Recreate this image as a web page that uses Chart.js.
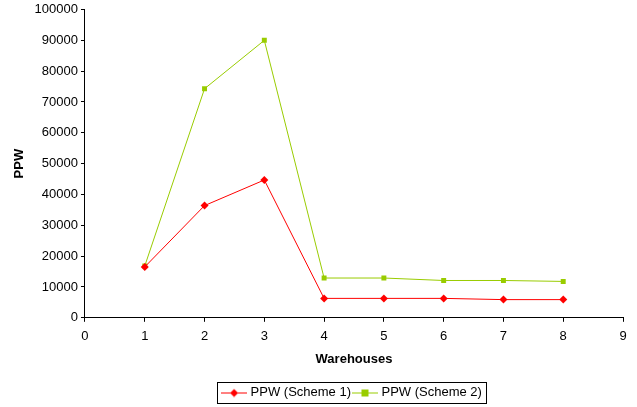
<!DOCTYPE html>
<html>
<head>
<meta charset="utf-8">
<script src="https://cdn.jsdelivr.net/npm/chart.js@4/dist/chart.umd.min.js"></script>
<style>
  html, body { margin: 0; padding: 0; background: #fff; }
  #wrap { width: 637px; height: 407px; }
</style>
</head>
<body>
<div id="wrap"><canvas id="myChart" width="637" height="407"></canvas></div>
<script>
// chart data
const warehouses = [1, 2, 3, 4, 5, 6, 7, 8];
const scheme1 = [16500, 36400, 44700, 6300, 6300, 6300, 5900, 5900];
const scheme2 = [16800, 74300, 90000, 12900, 12900, 12100, 12100, 11800];
const seriesNames = ['PPW (Scheme 1)', 'PPW (Scheme 2)'];

const red = '#FF0000';
const green = '#99CC00';
const fontFamily = 'Liberation Sans, Arial, sans-serif';

// legend icon: short line with the marker in the middle
function legendIcon(color, shape) {
  const c = document.createElement('canvas');
  c.width = 26; c.height = 10;
  const g = c.getContext('2d');
  g.strokeStyle = color;
  g.lineWidth = 1;
  g.beginPath();
  g.moveTo(0, 5.5); g.lineTo(26, 5.5);
  g.stroke();
  g.fillStyle = color;
  if (shape === 'rect') {
    g.fillRect(9.5, 2, 7, 7);
  } else {
    g.beginPath();
    g.moveTo(13, 1.5); g.lineTo(17, 5.5); g.lineTo(13, 9.5); g.lineTo(9, 5.5);
    g.closePath(); g.fill();
  }
  return c;
}

// center the legend under the plot area and draw a border round it
const legendBox = {
  id: 'legendBox',
  afterLayout(chart) {
    const lg = chart.legend;
    const shift = (chart.chartArea.left + chart.chartArea.right) / 2 - (lg.left + lg.right) / 2 - 1;
    lg.left += shift;
    lg.right += shift;
  },
  afterDraw(chart) {
    const boxes = chart.legend.legendHitBoxes;
    if (!boxes || !boxes.length) return;
    const left = Math.min(...boxes.map(b => b.left)) - 7;
    const right = Math.max(...boxes.map(b => b.left + b.width)) + 4;
    const top = boxes[0].top - 4;
    const bottom = boxes[0].top + boxes[0].height + 4;
    const ctx = chart.ctx;
    ctx.save();
    ctx.strokeStyle = '#000';
    ctx.lineWidth = 1;
    ctx.strokeRect(Math.round(left) + 0.5, Math.round(top) + 0.5, Math.round(right - left), Math.round(bottom - top));
    ctx.restore();
  }
};

const ctx = document.getElementById('myChart');
if (ctx) {
  new Chart(ctx, {
    type: 'line',
    data: {
      datasets: [{
        label: seriesNames[0],
        data: warehouses.map((w, i) => ({ x: w, y: scheme1[i] })),
        borderColor: red,
        backgroundColor: red,
        borderWidth: 1,
        pointStyle: 'rectRot',
        pointRadius: 4,
        pointBorderWidth: 0,
        tension: 0
      }, {
        label: seriesNames[1],
        data: warehouses.map((w, i) => ({ x: w, y: scheme2[i] })),
        borderColor: green,
        backgroundColor: green,
        borderWidth: 1,
        pointStyle: 'rect',
        pointRadius: 3.5,
        pointBorderWidth: 0,
        tension: 0
      }]
    },
    options: {
      responsive: false,
      animation: false,
      layout: {
        padding: { left: 12, right: 14, top: 0, bottom: -2 }
      },
      plugins: {
        tooltip: { enabled: false },
        legend: {
          position: 'bottom',
          labels: {
            color: '#000',
            font: { family: fontFamily, size: 13 },
            usePointStyle: true,
            pointStyleWidth: 20,
            padding: 4,
            generateLabels(chart) {
              return chart.data.datasets.map((ds, i) => ({
                text: ds.label,
                pointStyle: legendIcon(ds.borderColor, ds.pointStyle),
                fillStyle: ds.borderColor,
                strokeStyle: ds.borderColor,
                lineWidth: 0,
                fontColor: '#000',
                datasetIndex: i
              }));
            }
          }
        }
      },
      scales: {
        x: {
          type: 'linear',
          min: 0,
          max: 9,
          ticks: {
            stepSize: 1,
            color: '#000',
            padding: 7,
            font: { family: fontFamily, size: 13 }
          },
          grid: { display: true, drawOnChartArea: false, drawTicks: true, tickLength: 4, color: '#000' },
          border: { display: true, color: '#000', width: 1 },
          title: {
            display: true,
            text: 'Warehouses',
            color: '#000',
            font: { family: fontFamily, size: 13, weight: 'bold' },
            padding: { top: 0, bottom: 15 }
          }
        },
        y: {
          min: 0,
          max: 100000,
          ticks: {
            stepSize: 10000,
            color: '#000',
            padding: 3,
            font: { family: fontFamily, size: 13, lineHeight: 1 },
            callback: v => String(v)
          },
          grid: { display: true, drawOnChartArea: false, drawTicks: true, tickLength: 4, color: '#000' },
          border: { display: true, color: '#000', width: 1 },
          title: {
            display: true,
            text: 'PPW',
            color: '#000',
            font: { family: fontFamily, size: 13, weight: 'bold' },
            padding: { top: 0, bottom: 4 }
          }
        }
      }
    },
    plugins: [legendBox]
  });
}
</script>
</body>
</html>
